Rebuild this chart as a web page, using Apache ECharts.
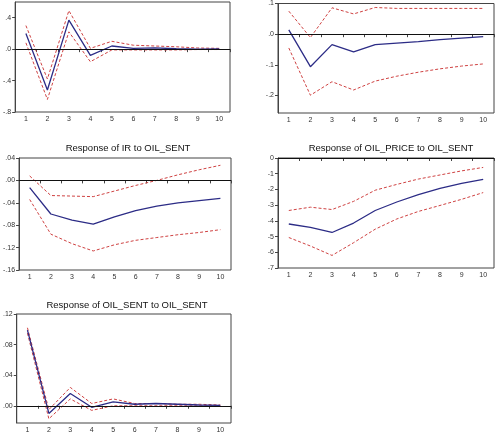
<!DOCTYPE html>
<html>
<head>
<meta charset="utf-8">
<script src="https://cdn.jsdelivr.net/npm/echarts@6/dist/echarts.min.js"></script>
<style>
  html, body { margin: 0; padding: 0; background: #fff; }
  #chart { width: 496px; height: 434px; }
</style>
</head>
<body>
<div id="chart"></div>
<script>
var periods = ['1', '2', '3', '4', '5', '6', '7', '8', '9', '10'];

// top left (title cut off in the picture)
var p1Resp = [0.20, -0.52, 0.37, -0.08, 0.04, 0.01, 0.015, 0.005, 0.0, 0.003];
var p1Upper = [0.30, -0.38, 0.49, 0.01, 0.10, 0.05, 0.04, 0.03, 0.015, 0.01];
var p1Lower = [0.08, -0.64, 0.22, -0.16, -0.01, -0.01, -0.01, -0.01, -0.005, -0.005];
var p1Ticks = [-0.8, -0.4, 0, 0.4];

// top right
var p2Resp = [0.014, -0.106, -0.034, -0.058, -0.034, -0.029, -0.024, -0.018, -0.013, -0.008];
var p2Upper = [0.075, -0.011, 0.086, 0.066, 0.087, 0.084, 0.084, 0.084, 0.084, 0.084];
var p2Lower = [-0.045, -0.199, -0.155, -0.182, -0.153, -0.137, -0.124, -0.113, -0.104, -0.097];
var p2Ticks = [-0.2, -0.1, 0, 0.1];

// Response of IR to OIL_SENT
var p3Resp = [-0.013, -0.060, -0.071, -0.078, -0.065, -0.054, -0.046, -0.040, -0.036, -0.032];
var p3Upper = [0.008, -0.027, -0.028, -0.029, -0.019, -0.009, 0.0, 0.010, 0.019, 0.027];
var p3Lower = [-0.034, -0.096, -0.113, -0.126, -0.115, -0.107, -0.102, -0.097, -0.093, -0.088];
var p3Ticks = [-0.16, -0.12, -0.08, -0.04, 0, 0.04];

// Response of OIL_PRICE to OIL_SENT
var p4Resp = [-4.2, -4.42, -4.74, -4.14, -3.34, -2.8, -2.33, -1.94, -1.62, -1.36];
var p4Upper = [-3.34, -3.13, -3.28, -2.76, -2.05, -1.68, -1.34, -1.08, -0.82, -0.6];
var p4Lower = [-5.06, -5.6, -6.2, -5.39, -4.53, -3.88, -3.4, -3.02, -2.63, -2.2];
var p4Ticks = [-7, -6, -5, -4, -3, -2, -1, 0];

// Response of OIL_SENT to OIL_SENT
var p5Resp = [0.099, -0.010, 0.016, -0.002, 0.005, 0.002, 0.003, 0.002, 0.001, 0.0005];
var p5Upper = [0.102, -0.005, 0.024, 0.003, 0.009, 0.003, 0.003, 0.002, 0.002, 0.001];
var p5Lower = [0.095, -0.017, 0.009, -0.006, 0.0, 0.0, 0.0, 0.0, 0.0, 0.0];
var p5Ticks = [0, 0.04, 0.08, 0.12];

var titles = ['', '', 'Response of IR to OIL_SENT', 'Response of OIL_PRICE to OIL_SENT', 'Response of OIL_SENT to OIL_SENT'];

var fontFamily = '"Liberation Sans", Arial, sans-serif';
var lineColor = '#2c2c86';
var bandColor = '#cf4242';

var panels = [
  {resp: p1Resp, upper: p1Upper, lower: p1Lower, ticks: p1Ticks, min: -0.8, max: 0.6, dec: 1,
    left: 15, top: 2, width: 215, height: 110},
  {resp: p2Resp, upper: p2Upper, lower: p2Lower, ticks: p2Ticks, min: -0.257, max: 0.1, dec: 1,
    left: 278, top: 2, width: 216, height: 111},
  {resp: p3Resp, upper: p3Upper, lower: p3Lower, ticks: p3Ticks, min: -0.16, max: 0.04, dec: 2,
    left: 15, top: 158, width: 216, height: 112},
  {resp: p4Resp, upper: p4Upper, lower: p4Lower, ticks: p4Ticks, min: -7, max: 0, dec: 0,
    left: 278, top: 158, width: 216, height: 110},
  {resp: p5Resp, upper: p5Upper, lower: p5Lower, ticks: p5Ticks, min: -0.0225, max: 0.12, dec: 2,
    left: 15, top: 314, width: 216, height: 109}
];
var titlePos = [null, null, {x: 123, y: 138}, {x: 386, y: 138}, {x: 122, y: 295}];

// EViews style numbers: .4  -.04  .00
function evFormat(dec) {
  return function (v) {
    var s = Number(v).toFixed(dec);
    return s.replace(/^0\./, '.').replace(/^-0\./, '-.');
  };
}

var grid = [], xAxis = [], yAxis = [], series = [], title = [];

panels.forEach(function (p, i) {
  grid.push({
    left: p.left, top: p.top, width: p.width, height: p.height,
    show: true, borderColor: '#444', borderWidth: 1, backgroundColor: '#fff'
  });
  xAxis.push({
    type: 'category',
    gridIndex: i,
    data: periods,
    boundaryGap: true,
    axisLine: {show: true, lineStyle: {color: '#444', width: 1}},
    axisTick: {show: true, inside: false, length: 3, alignWithLabel: false, lineStyle: {color: '#444'}},
    axisLabel: {color: '#333', fontSize: 7, fontFamily: fontFamily, margin: 4, interval: 0},
    splitLine: {show: false}
  });
  yAxis.push({
    type: 'value',
    gridIndex: i,
    min: p.min,
    max: p.max,
    axisLine: {show: true, lineStyle: {color: '#444', width: 1}},
    axisTick: {show: true, length: 3, customValues: p.ticks, lineStyle: {color: '#444'}},
    axisLabel: {color: '#333', fontSize: 7, fontFamily: fontFamily, margin: 4,
      customValues: p.ticks, formatter: evFormat(p.dec)},
    splitLine: {show: false}
  });
  series.push({
    type: 'line', xAxisIndex: i, yAxisIndex: i, data: p.upper,
    symbol: 'none', silent: true,
    lineStyle: {color: bandColor, width: 1, type: [3, 2]}
  });
  series.push({
    type: 'line', xAxisIndex: i, yAxisIndex: i, data: p.lower,
    symbol: 'none', silent: true,
    lineStyle: {color: bandColor, width: 1, type: [3, 2]}
  });
  series.push({
    type: 'line', xAxisIndex: i, yAxisIndex: i, data: p.resp,
    symbol: 'none', silent: true,
    lineStyle: {color: lineColor, width: 1.3},
    markLine: {
      silent: true, symbol: 'none', label: {show: false},
      lineStyle: {color: '#111', width: 1.2, type: 'solid'},
      data: [{yAxis: 0}]
    }
  });
  if (titles[i]) {
    title.push({
      text: titles[i],
      left: titlePos[i].x, top: titlePos[i].y,
      textAlign: 'center',
      textStyle: {fontSize: 9.5, fontWeight: 'normal', color: '#111', fontFamily: fontFamily}
    });
  }
});

var option = {
  backgroundColor: '#fff',
  animation: false,
  title: title,
  grid: grid,
  xAxis: xAxis,
  yAxis: yAxis,
  series: series
};

var myChart = echarts.init(document.getElementById('chart'));
myChart.setOption(option);
</script>
</body>
</html>
